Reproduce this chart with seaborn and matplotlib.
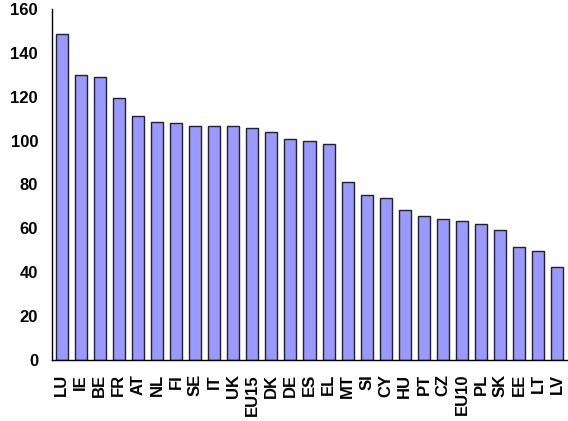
import numpy as np
import matplotlib
matplotlib.use("Agg")
import matplotlib.pyplot as plt
import seaborn as sns
import pandas as pd

paises = ["LU", "IE", "BE", "FR", "AT", "NL", "FI", "SE", "IT", "UK", "EU15", "DK", "DE",
          "ES", "EL", "MT", "SI", "CY", "HU", "PT", "CZ", "EU10", "PL", "SK", "EE", "LT", "LV"]
valores = [148.5, 129.7, 129.2, 119.3, 111.1, 108.4, 108.0, 106.5, 106.5, 106.5, 105.8, 104.1, 100.6,
           99.8, 98.3, 81.0, 75.3, 73.8, 68.3, 65.8, 64.4, 63.2, 62.2, 59.2, 51.3, 49.6, 42.6]
yticks = [0, 20, 40, 60, 80, 100, 120, 140, 160]

df = pd.DataFrame({"pais": paises, "valor": valores})

sns.set_style("white")
plt.rcParams["font.family"] = ["Liberation Sans", "DejaVu Sans"]

fig = plt.figure(figsize=(5.68, 4.21), dpi=100)
ax = fig.add_axes([52 / 568, 61 / 421, 515 / 568, 351 / 421])

sns.barplot(data=df, x="pais", y="valor", color="#9999ff", saturation=1,
            edgecolor="#222222", linewidth=1.0, width=0.63, ax=ax)

ax.set_xlim(-0.5, len(paises) - 0.5)
ax.set_ylim(0, 160)
ax.set_yticks(yticks)
ax.set_yticklabels([str(t) for t in yticks], fontsize=12, fontweight="bold")
ax.set_xticks(range(len(paises)))
ax.set_xticklabels(paises, rotation=90, fontsize=12, fontweight="bold")
ax.set_xticks(np.arange(-0.5, len(paises), 1.0), minor=True)
ax.tick_params(axis="x", which="major", length=0, pad=10, labelcolor="black")
ax.tick_params(axis="x", which="minor", length=3.5, width=1, color="black", direction="out")
ax.tick_params(axis="y", length=5, width=1, color="black", direction="out", pad=5,
               labelcolor="black")
ax.set_xlabel("")
ax.set_ylabel("")

for lado in ["top", "right"]:
    ax.spines[lado].set_visible(False)
for lado in ["left", "bottom"]:
    ax.spines[lado].set_color("black")
    ax.spines[lado].set_linewidth(1)

plt.savefig("out.png", dpi=100)
plt.close()
